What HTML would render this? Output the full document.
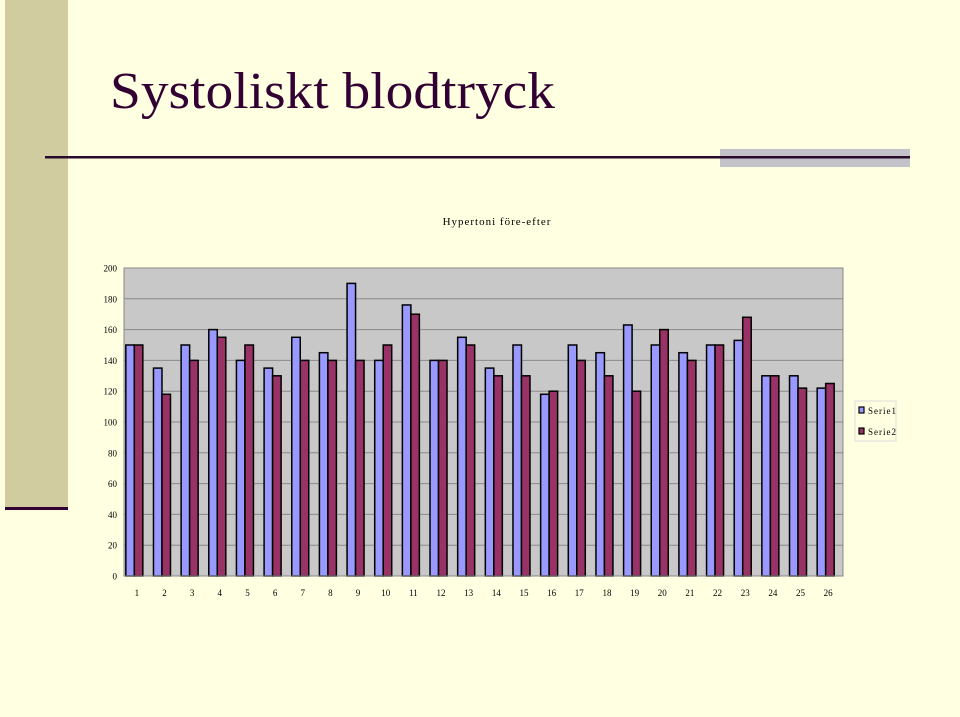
<!DOCTYPE html>
<html><head><meta charset="utf-8"><style>
html,body{margin:0;padding:0;width:960px;height:717px;overflow:hidden;background:#FFFFE2;}
svg{display:block;font-family:"Liberation Serif",serif;}
</style></head><body>
<svg id="slide" width="960" height="717" viewBox="0 0 960 717">
<rect x="0" y="0" width="960" height="717" fill="#FFFFE2"/>
<rect x="5" y="0" width="63" height="510" fill="#D0CCA0"/>
<rect x="5" y="507" width="63" height="3" fill="#330033"/>
<text x="110" y="108" font-size="52" fill="#330033" textLength="445" lengthAdjust="spacingAndGlyphs">Systoliskt blodtryck</text>
<rect x="720" y="149" width="190" height="18" fill="#C2C2C8"/>
<rect x="45" y="156" width="865" height="2.5" fill="#2A0A2A"/>
<text x="497" y="225" font-size="11" text-anchor="middle" fill="#000" letter-spacing="1">Hypertoni före-efter</text>
<g id="chart"></g>
</svg>
<script>
const categories = ["1","2","3","4","5","6","7","8","9","10","11","12","13","14","15","16","17","18","19","20","21","22","23","24","25","26"];
const serie1 = [150,135,150,160,140,135,155,145,190,140,176,140,155,135,150,118,150,145,163,150,145,150,153,130,130,122];
const serie2 = [150,118,140,155,150,130,140,140,140,150,170,140,150,130,130,120,140,130,120,160,140,150,168,130,122,125];
const yTicks = [0,20,40,60,80,100,120,140,160,180,200];
const seriesNames = ["Serie1","Serie2"];

const NS = "http://www.w3.org/2000/svg";
const g = document.getElementById("chart");
const X0 = 124, X1 = 843, Y0 = 576, Y1 = 268, YMAX = 200;
const catW = (X1 - X0) / categories.length;
const barW = 8.5;
function yPos(v){ return Y0 - (v / YMAX) * (Y0 - Y1); }
function xCat(i){ return X0 + i * catW; }
function mk(tag, attrs){ const e = document.createElementNS(NS, tag); for (const k in attrs) e.setAttribute(k, attrs[k]); g.appendChild(e); return e; }

const plot = mk("rect", {x:X0, y:Y1, width:X1-X0, height:Y0-Y1, fill:"#C8C8C8", stroke:"#888", "stroke-width":1});



yTicks.forEach(t => {
  const y = yPos(t);
  if (t > 0) {
    const l = mk("line", {x1:X0, x2:X1, y1:y, y2:y, stroke:"#8a8a8a", "stroke-width":1});
    
    
  }
  const tx = mk("text", {x:117, y:y+3.5, "font-size":9, "text-anchor":"end", fill:"#000"});
  tx.textContent = t;
  
  
});

categories.forEach((c, i) => {
  const cx = xCat(i) + catW/2;
  const b1 = mk("rect", {x:cx - barW - 3.5, y:yPos(serie1[i]), width:barW, height:Y0 - yPos(serie1[i]), fill:"#9999FF", stroke:"#000", "stroke-width":1.5});
  
  
  const b2 = mk("rect", {x:cx - 3.5, y:yPos(serie2[i]), width:barW, height:Y0 - yPos(serie2[i]), fill:"#993366", stroke:"#000", "stroke-width":1.5});
  
  
  const tx = mk("text", {x:cx - 1, y:596, "font-size":9, "text-anchor":"middle", fill:"#000"});
  tx.textContent = c;
  
  
});

const axis = mk("line", {x1:X0, x2:X1, y1:Y0, y2:Y0, stroke:"#888", "stroke-width":1});



const lg = mk("rect", {x:855, y:401, width:41, height:40, fill:"#FFFFE2", stroke:"#ddd", "stroke-width":1});


const colors = ["#9999FF","#993366"];
seriesNames.forEach((n, i) => {
  const y = 411 + i*21;
  const sw = mk("rect", {x:859, y:y-4, width:5, height:6, fill:colors[i], stroke:"#000", "stroke-width":1.2});
  
  
  const t = mk("text", {x:868, y:y+3, "font-size":9, fill:"#000", "letter-spacing":1});
  t.textContent = n;
  
  
});
</script>
</body></html>
